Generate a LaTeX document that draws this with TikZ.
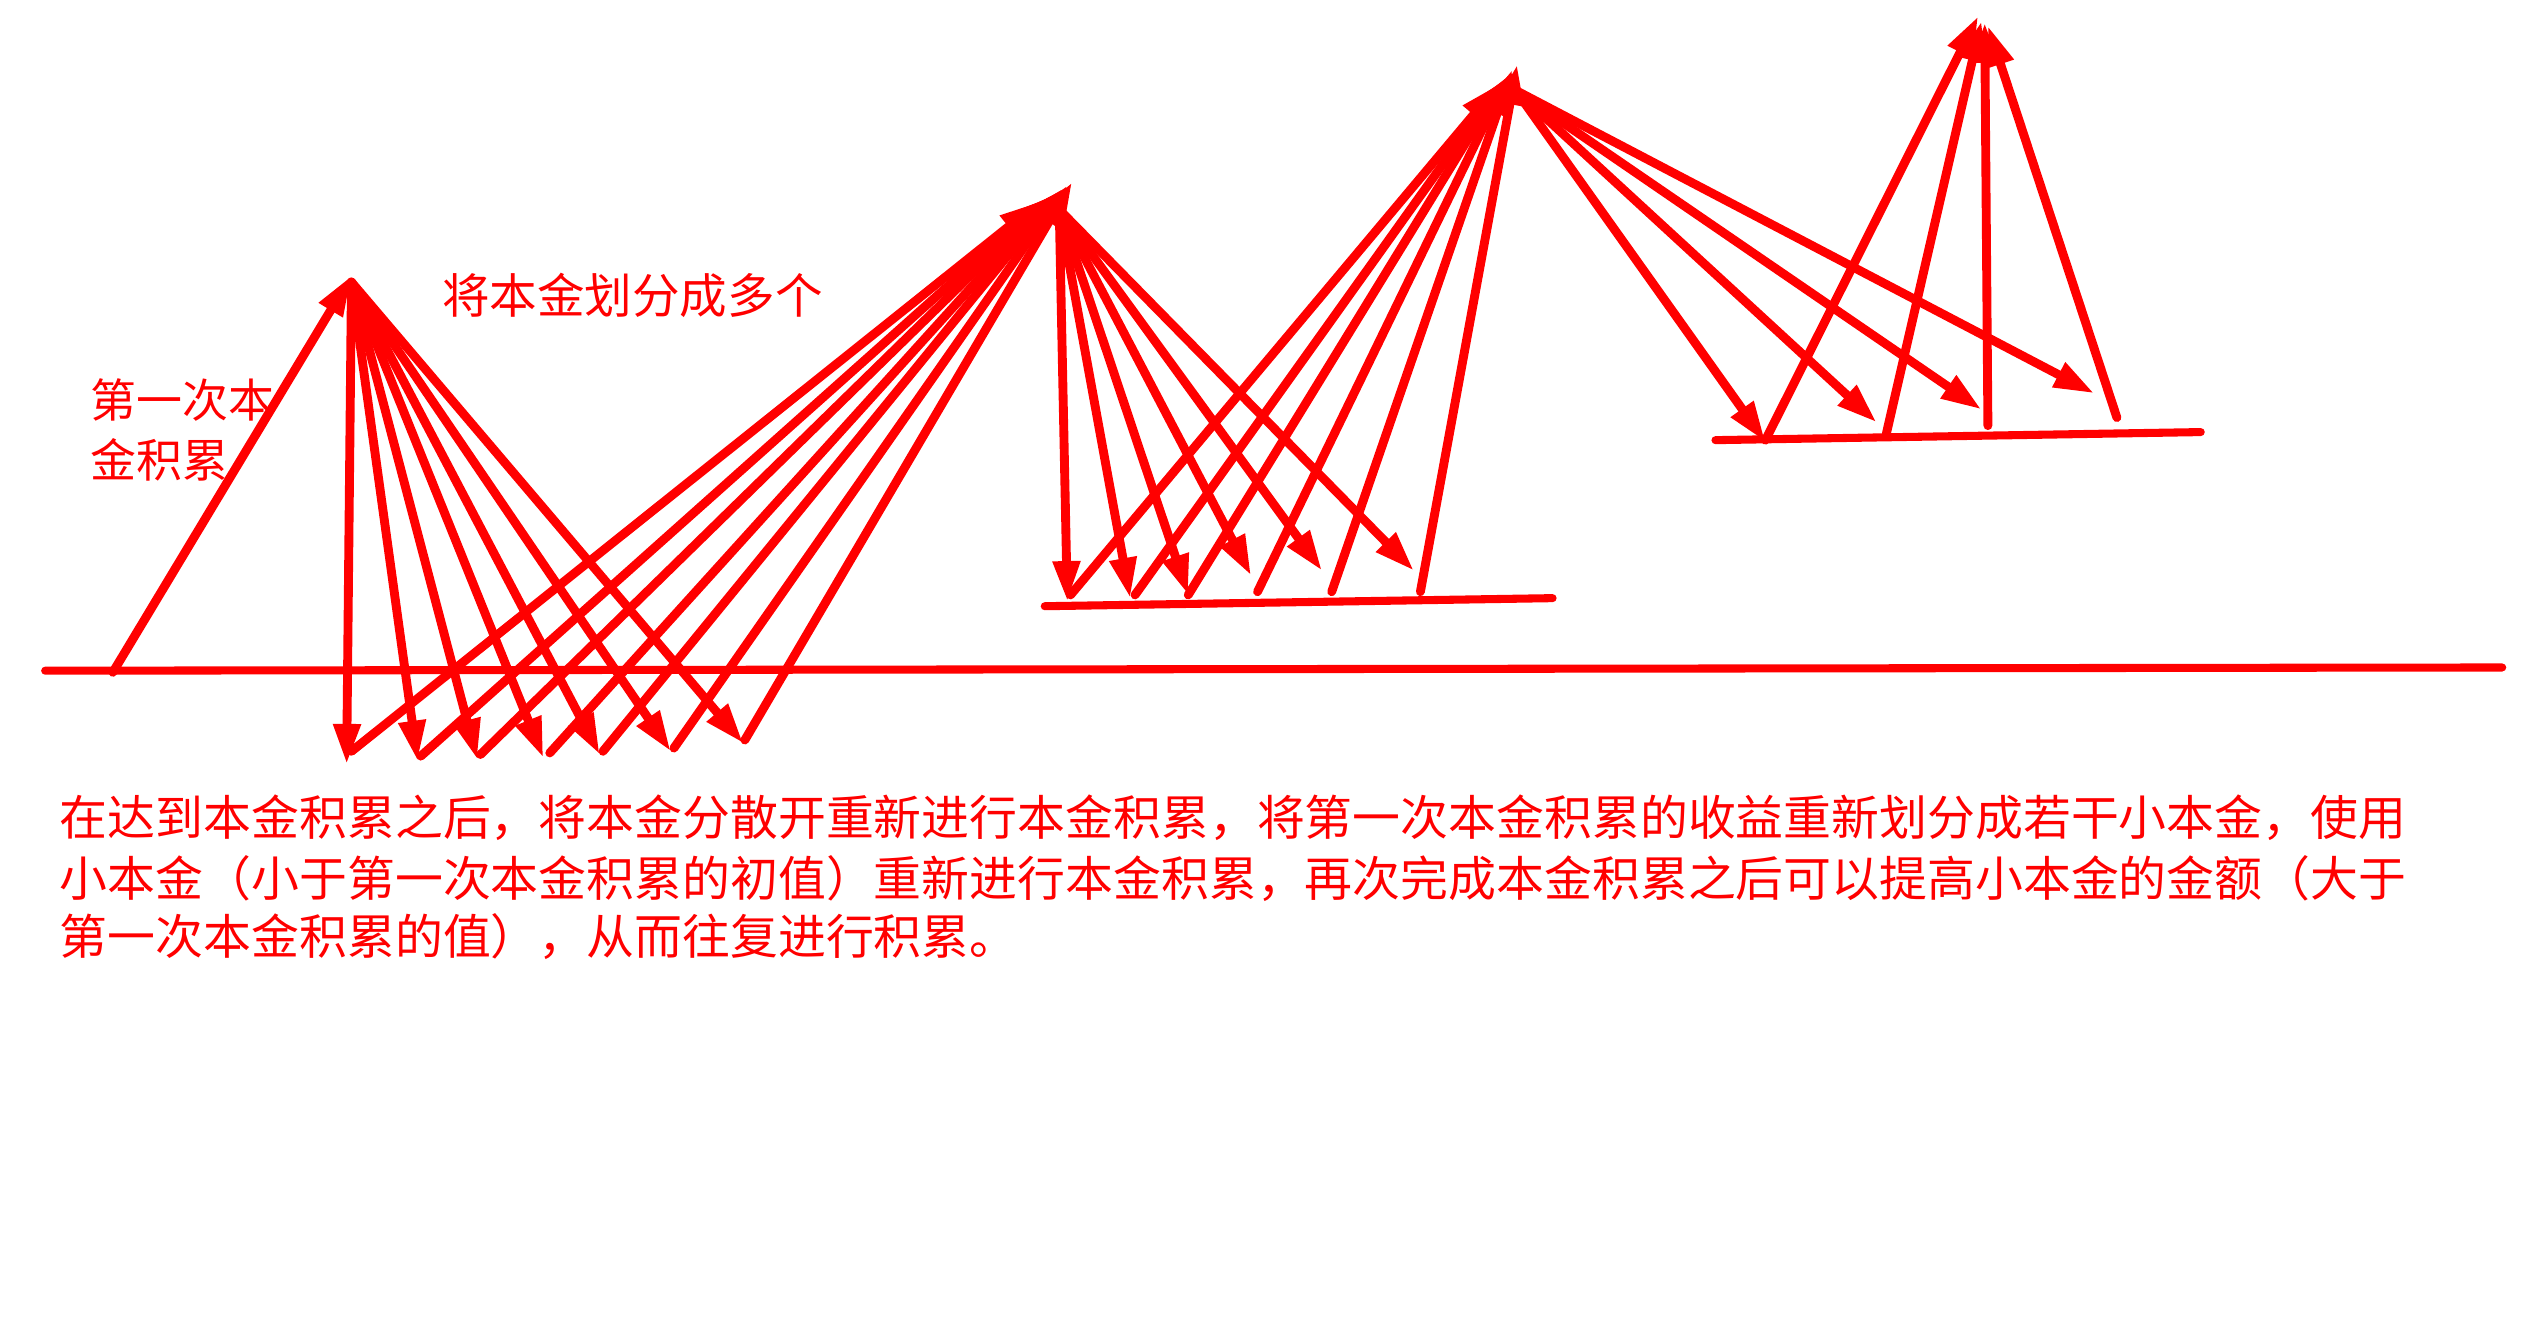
\documentclass[tikz,border=0pt]{standalone}
\usepackage{fontspec}
\newfontfamily\cjk{Noto Sans CJK SC}
\usetikzlibrary{arrows.meta}
\definecolor{lred}{RGB}{255,0,0}
\begin{document}
\begin{tikzpicture}[x=1pt,y=-1pt,
  arr/.style={draw=lred,line width=5.5pt,line cap=round,-{Triangle[length=25pt,width=16pt]}},
  baseln/.style={draw=lred,line width=5pt,line cap=round},
  lbl/.style={text=lred,inner sep=0pt,anchor=west,font=\cjk\fontsize{29.5pt}{35pt}\selectfont},
  para/.style={text=lred,inner sep=0pt,anchor=west,font=\cjk\fontsize{29.7pt}{37pt}\selectfont}]
\fill[white] (0,0) rectangle (1568,832);
\useasboundingbox (0,0) rectangle (1568,832);
% ground lines
\coordinate (g0a) at (28,416); \coordinate (g0b) at (1552,414);
\coordinate (g1a) at (648,376); \coordinate (g1b) at (963,371);
\coordinate (g2a) at (1064,273); \coordinate (g2b) at (1365,268);
\draw[baseln] (g0a) -- (g0b);
\draw[baseln] (g1a) -- (g1b);
\draw[baseln] (g2a) -- (g2b);
% apexes
\coordinate (s0) at (70,417);
\coordinate (A1) at (218,171);
\coordinate (A1o) at (218,175);
\coordinate (A2o) at (657,130);
\coordinate (A3o) at (940,56);
% first accumulation
\draw[arr] (s0) -- (A1);
% A1 down
\foreach \n/\x/\y in {t1/215/474,t2/259/472,t3/296/471,t4/337/470,t5/372/468,t6/416/466,t7/461/461}
  \coordinate (\n) at (\x,\y);
\foreach \n in {t1,t2,t3,t4,t5,t6,t7}
  \draw[arr] (A1o) -- (\n);
% up to A2
\foreach \n/\x/\y in {u1/218/466,u2/261/469,u3/298/468,u4/341/467,u5/374/466,u6/418/464,u7/462/459}
  \coordinate (\n) at (\x,\y);
\foreach \n/\x/\y in {v1/645/125,v2/649/123,v3/653/121,v4/656/119,v5/659/117,v6/662/115,v7/665/113}
  \coordinate (\n) at (\x,\y);
\foreach \i in {1,...,7}
  \draw[arr] (u\i) -- (v\i);
% A2 down
\foreach \n/\x/\y in {w1/662/373,w2/701/371,w3/737/369,w4/776/357,w5/820/354,w6/877/354}
  \coordinate (\n) at (\x,\y);
\foreach \n in {w1,w2,w3,w4,w5,w6}
  \draw[arr] (A2o) -- (\n);
% up to A3
\foreach \n/\x/\y in {p1/664/369,p2/704/369,p3/737/369,p4/780/367,p5/826/367,p6/881/367}
  \coordinate (\n) at (\x,\y);
\foreach \n/\x/\y in {q1/930/52,q2/932/50,q3/934/48,q4/936/46,q5/938/43,q6/941/40}
  \coordinate (\n) at (\x,\y);
\foreach \i in {1,...,6}
  \draw[arr] (p\i) -- (q\i);
% A3 down
\foreach \n/\x/\y in {r1/1095/274,r2/1164/262,r3/1229/254,r4/1299/244}
  \coordinate (\n) at (\x,\y);
\foreach \n in {r1,r2,r3,r4}
  \draw[arr] (A3o) -- (\n);
% up to A4
\foreach \n/\x/\y in {m1/1095/273,m2/1170/269,m3/1233/264,m4/1313/259}
  \coordinate (\n) at (\x,\y);
\foreach \n/\x/\y in {k1/1227/10,k2/1229/13,k3/1231/14,k4/1233/16}
  \coordinate (\n) at (\x,\y);
\foreach \i in {1,...,4}
  \draw[arr] (m\i) -- (k\i);
% labels
\node[lbl] (split) at (274,183) {将本金划分成多个};
\node[lbl,font=\cjk\fontsize{28.5pt}{35pt}\selectfont] (first1) at (56,248) {第一次本};
\node[lbl,font=\cjk\fontsize{28.5pt}{35pt}\selectfont] (first2) at (56,285) {金积累};
\node[para] (l1) at (37,507) {在达到本金积累之后，将本金分散开重新进行本金积累，将第一次本金积累的收益重新划分成若干小本金，使用};
\node[para] (l2) at (37,545) {小本金（小于第一次本金积累的初值）重新进行本金积累，再次完成本金积累之后可以提高小本金的金额（大于};
\node[para] (l3) at (37,581) {第一次本金积累的值），从而往复进行积累。};
\end{tikzpicture}
\end{document}
